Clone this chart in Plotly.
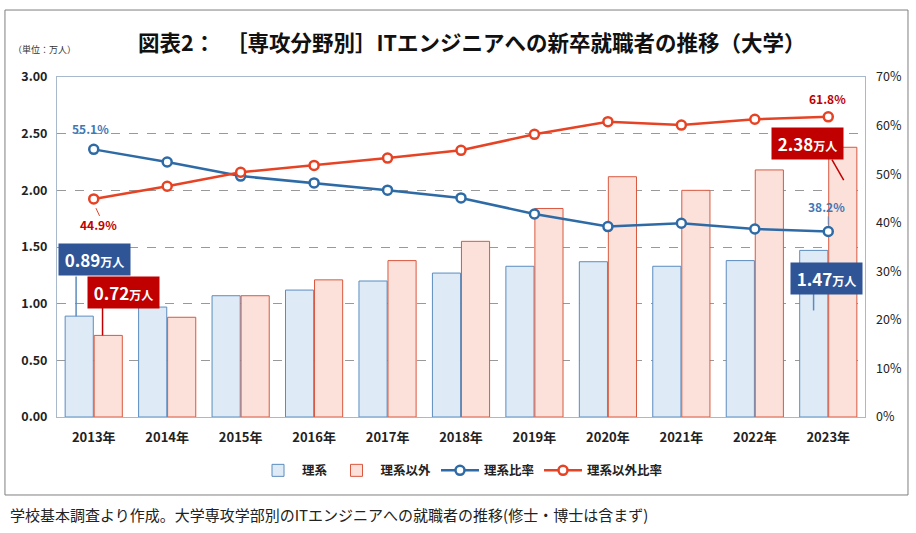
import plotly.graph_objects as go

years = ["2013年", "2014年", "2015年", "2016年", "2017年", "2018年",
         "2019年", "2020年", "2021年", "2022年", "2023年"]
rikei = [0.89, 0.97, 1.07, 1.12, 1.20, 1.27, 1.33, 1.37, 1.33, 1.38, 1.47]
bunkei = [0.72, 0.88, 1.07, 1.21, 1.38, 1.55, 1.84, 2.12, 2.00, 2.18, 2.38]
rikei_ratio = [55.1, 52.5, 49.6, 48.2, 46.7, 45.1, 41.8, 39.2, 39.9, 38.7, 38.2]
bunkei_ratio = [44.9, 47.5, 50.4, 51.8, 53.3, 54.9, 58.2, 60.8, 60.1, 61.3, 61.8]

FONT = "Noto Sans CJK JP"
BLUE_LINE = "#2E6BA6"
RED_LINE = "#E64325"
BLUE_BOX = "#2F5597"
RED_BOX = "#C00000"
AXIS = "#A9B9CC"

fig = go.Figure()
fig.add_trace(go.Bar(x=years, y=rikei, name="理系",
                     marker=dict(color="#DEEBF7", line=dict(color="#5B8CBF", width=1))))
fig.add_trace(go.Bar(x=years, y=bunkei, name="理系以外",
                     marker=dict(color="#FCE1DA", line=dict(color="#D9583F", width=1))))
fig.add_trace(go.Scatter(x=years, y=rikei_ratio, name="理系比率", yaxis="y2",
                         mode="lines+markers",
                         line=dict(color=BLUE_LINE, width=2.5),
                         marker=dict(symbol="circle", size=9, color="white",
                                     line=dict(color=BLUE_LINE, width=2.5))))
fig.add_trace(go.Scatter(x=years, y=bunkei_ratio, name="理系以外比率", yaxis="y2",
                         mode="lines+markers",
                         line=dict(color=RED_LINE, width=2.5),
                         marker=dict(symbol="circle", size=9, color="white",
                                     line=dict(color=RED_LINE, width=2.5))))

def callout(x, y, value, color):
    return dict(x=x, y=y, xref="x", yref="y", showarrow=False,
                text=f"<b>{value:.2f}<span style='font-size:12px'>万人</span></b>",
                font=dict(family=FONT, size=17, color="white"),
                bgcolor=color, width=71, height=31, borderpad=0)

annotations = [
    callout(0.01, 1.39, rikei[0], BLUE_BOX),
    callout(0.40, 1.10, bunkei[0], RED_BOX),
    callout(9.72, 2.41, bunkei[-1], RED_BOX),
    callout(9.97, 1.22, rikei[-1], BLUE_BOX),
    dict(x=-0.05, y=59.3, xref="x", yref="y2", showarrow=False,
         text=f"<b>{rikei_ratio[0]}%</b>", font=dict(family=FONT, size=12, color="#3F78B5")),
    dict(x=0.07, y=39.6, xref="x", yref="y2", showarrow=False,
         text=f"<b>{bunkei_ratio[0]}%</b>", font=dict(family=FONT, size=12, color=RED_BOX)),
    dict(x=9.99, y=65.6, xref="x", yref="y2", showarrow=False,
         text=f"<b>{bunkei_ratio[-1]}%</b>", font=dict(family=FONT, size=12, color=RED_BOX)),
    dict(x=9.97, y=43.3, xref="x", yref="y2", showarrow=False,
         text=f"<b>{rikei_ratio[-1]}%</b>", font=dict(family=FONT, size=12, color="#3F78B5")),
    dict(x=0.513, y=1.105, xref="paper", yref="paper", showarrow=False,
         xanchor="center", yanchor="middle",
         text="<b>図表2：　［専攻分野別］ITエンジニアへの新卒就職者の推移（大学）</b>",
         font=dict(family=FONT, size=21.5, color="#111")),
    dict(x=-0.057, y=1.08, xref="paper", yref="paper", showarrow=False,
         xanchor="left", yanchor="middle", text="（単位：万人）",
         font=dict(family=FONT, size=9, color="#333")),
    dict(x=-0.0606, y=-0.288, xref="paper", yref="paper", showarrow=False,
         xanchor="left", yanchor="middle",
         text="学校基本調査より作成。大学専攻学部別のITエンジニアへの就職者の推移(修士・博士は含まず)",
         font=dict(family=FONT, size=15, color="#222")),
]

shapes = [
    # outer frame
    dict(type="rect", xref="paper", yref="paper", x0=-0.0644, x1=1.0532,
         y0=-0.2294, y1=1.197, line=dict(color="#7F7F7F", width=1)),
    # leader lines
    dict(type="line", xref="x", yref="y", x0=-0.24, x1=-0.24, y0=1.24, y1=rikei[0],
         line=dict(color="#5B8CBF", width=1.5)),
    dict(type="line", xref="x", yref="y", x0=0.12, x1=0.12, y0=0.98, y1=bunkei[0],
         line=dict(color=RED_BOX, width=1.5)),
    dict(type="line", xref="x", yref="y", x0=10.05, x1=10.21, y0=2.27, y1=2.09,
         line=dict(color=RED_BOX, width=1.5)),
    dict(type="line", xref="x", yref="y", x0=9.80, x1=9.80, y0=1.09, y1=0.94,
         line=dict(color="#5B8CBF", width=1.5)),
    dict(type="line", xref="x", yref="y2", x0=10.0, x1=10.0, y0=41.3, y1=39.6,
         line=dict(color="#5B8CBF", width=1)),
    dict(type="line", xref="x", yref="y2", x0=0.03, x1=0.08, y0=43.0, y1=41.4,
         line=dict(color=RED_LINE, width=1)),
]

fig.update_layout(
    width=916, height=533,
    margin=dict(l=57, r=51, t=77, b=116, autoexpand=False),
    paper_bgcolor="white", plot_bgcolor="white",
    font=dict(family=FONT, color="#222"),
    barmode="group", bargap=0.21, bargroupgap=0.03,
    showlegend=True,
    legend=dict(orientation="h", x=0.5, xanchor="center", y=-0.158, yanchor="middle",
                font=dict(family=FONT, size=12.5, weight="bold"), traceorder="normal",
                itemwidth=38),
    xaxis=dict(range=[-0.5, len(years) - 0.5], autorange=False,
               showline=True, linecolor=AXIS, mirror=True, ticks="", automargin=False,
               ticklabelstandoff=8,
               tickfont=dict(family=FONT, size=13, weight="bold", color="#222")),
    yaxis=dict(range=[0, 3], dtick=0.5, tickformat=".2f", showline=True,
               linecolor=AXIS, mirror=True, zeroline=False, automargin=False,
               ticklabelstandoff=6,
               gridcolor="#999", griddash="dash", gridwidth=1,
               tickfont=dict(family=FONT, size=12.5, weight="bold", color="#222")),
    yaxis2=dict(range=[0, 70], dtick=10, ticksuffix="%", overlaying="y", side="right",
                showgrid=False, zeroline=False, automargin=False, ticklabelstandoff=10,
                tickfont=dict(family=FONT, size=12.5, color="#222")),
    annotations=annotations,
    shapes=shapes,
)

fig.write_html("out.html")
